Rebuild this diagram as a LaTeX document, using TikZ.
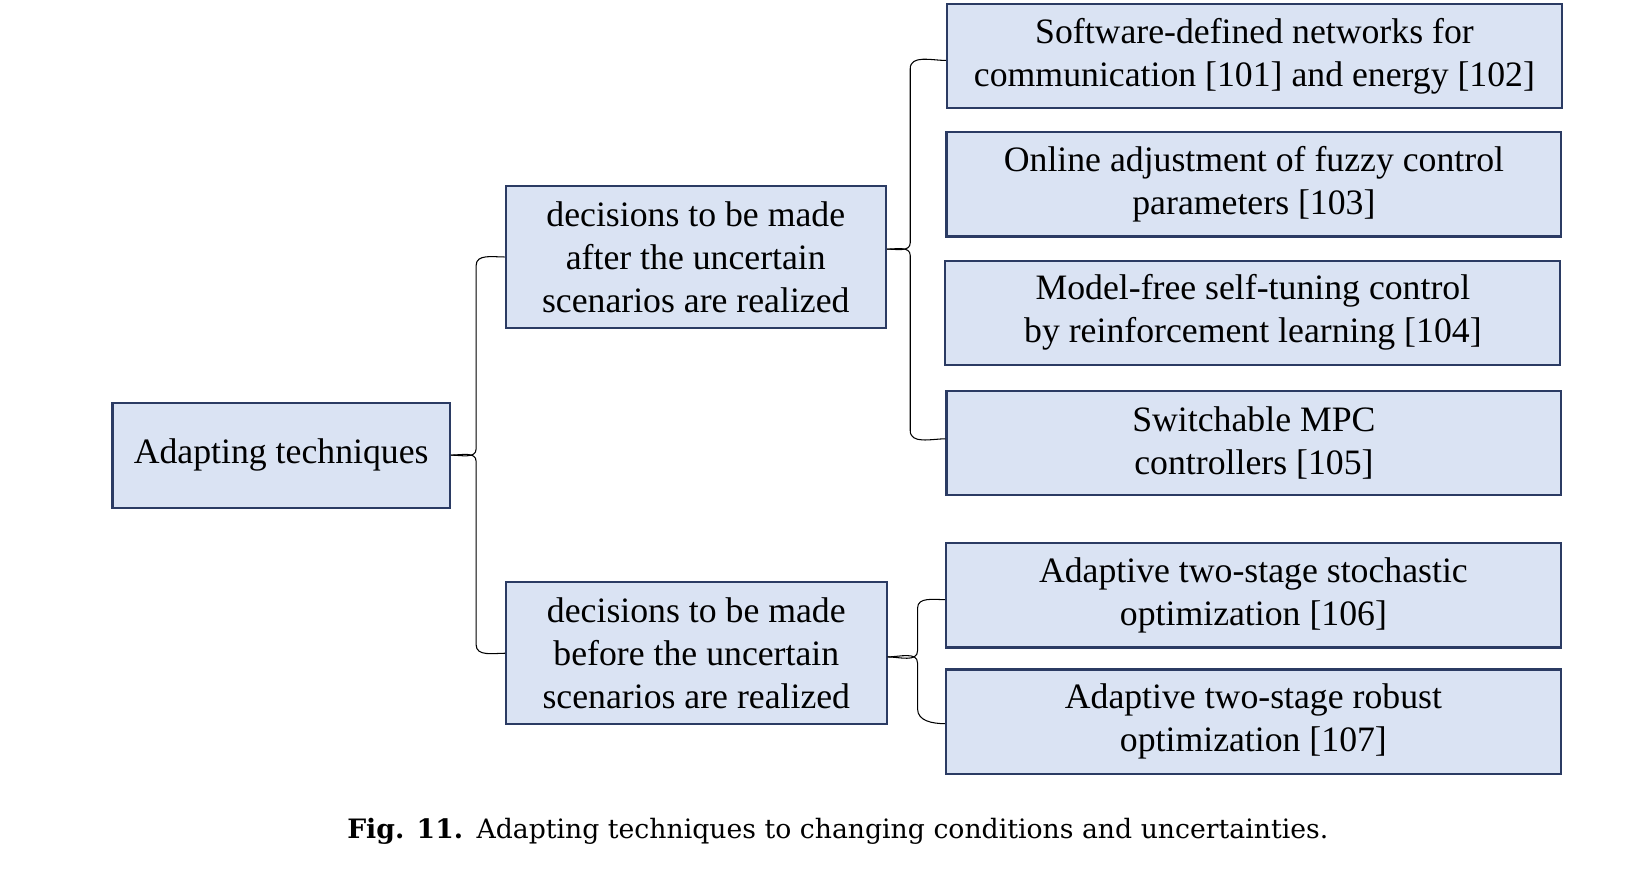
\documentclass[tikz,border=0pt]{standalone}
\usepackage{fontspec}
\setmainfont{Liberation Serif}
\newfontfamily\capfont{DejaVu Serif}
\usetikzlibrary{positioning}
\definecolor{boxfill}{HTML}{DAE3F3}
\definecolor{boxline}{HTML}{2B3B63}
\begin{document}
\begin{tikzpicture}[x=0.5pt,y=-0.5pt,
		tbox/.style={draw=boxline,fill=boxfill,line width=1pt,align=center,inner sep=0pt,
			font=\fontsize{17}{20.5}\selectfont},
		rootbox/.style={tbox,minimum width=160.5pt,minimum height=50pt},
		midbox/.style={tbox,minimum width=181pt,minimum height=67.5pt},
		leafbox/.style={tbox,minimum width=292.5pt,minimum height=49.5pt},
		brace/.style={draw=black,line width=0.5pt}]

			\useasboundingbox (0,0) rectangle (1567,826);

			\node [rootbox] (root) at (267.5,433) {Adapting techniques};

			\node [midbox] (after) at (662,244.5) {decisions to be made\\after the uncertain\\scenarios are realized};
			\node [midbox] (before) at (662.5,621.5) {decisions to be made\\before the uncertain\\scenarios are realized};

			\node [leafbox] (sdn) at (1193.5,53.5) {Software-defined networks for\\communication [101] and energy [102]};
			\node [leafbox] (fuzzy) at (1193,175.5) {Online adjustment of fuzzy control\\parameters [103]};
			\node [leafbox] (rl) at (1192,297.5) {Model-free self-tuning control\\by reinforcement learning [104]};
			\node [leafbox] (mpc) at (1193,421.5) {Switchable MPC\\controllers [105]};
			\node [leafbox] (stoch) at (1192.5,566.5) {Adaptive two-stage stochastic\\optimization [106]};
			\node [leafbox] (robust) at (1192.5,686.5) {Adaptive two-stage robust\\optimization [107]};

			% spines of the braces
			\coordinate (s0) at (453,433);
			\coordinate (s1) at (866,237);
			\coordinate (s2) at (873,625);

			\draw [brace] (after.west) to[out=180,in=90] ([yshift=-4pt]after.west -| s0) -- ([yshift=3pt]s0) to[out=-90,in=0] (root.east);
			\draw [brace] (root.east) to[out=0,in=90] ([yshift=-3pt]s0) -- ([yshift=4pt]before.west -| s0) to[out=-90,in=180] (before.west);

			\draw [brace] ([yshift=-2pt]sdn.west) to[out=180,in=90] ([yshift=-6pt]sdn.west -| s1) -- ([yshift=3pt]s1) to[out=-90,in=0] (after.east |- s1);
			\draw [brace] (after.east |- s1) to[out=0,in=90] ([yshift=-3pt]s1) -- ([yshift=6pt]mpc.west -| s1) to[out=-90,in=180] ([yshift=2pt]mpc.west);

			\draw [brace] ([yshift=-2pt]stoch.west) to[out=180,in=90] ([yshift=-6pt]stoch.west -| s2) -- ([yshift=3pt]s2) to[out=-90,in=0] (before.east |- s2);
			\draw [brace] (before.east |- s2) to[out=0,in=90] ([yshift=-3pt]s2) -- ([yshift=6pt]robust.west -| s2) to[out=-90,in=180] ([yshift=-1pt]robust.west);

			\node [anchor=base west,inner sep=0pt,font=\capfont\fontsize{12.7}{15}\selectfont] (caption) at (330,798) {\textbf{Fig. 11.}\enspace Adapting techniques to changing conditions and uncertainties.};
		\end{tikzpicture}
\end{document}
